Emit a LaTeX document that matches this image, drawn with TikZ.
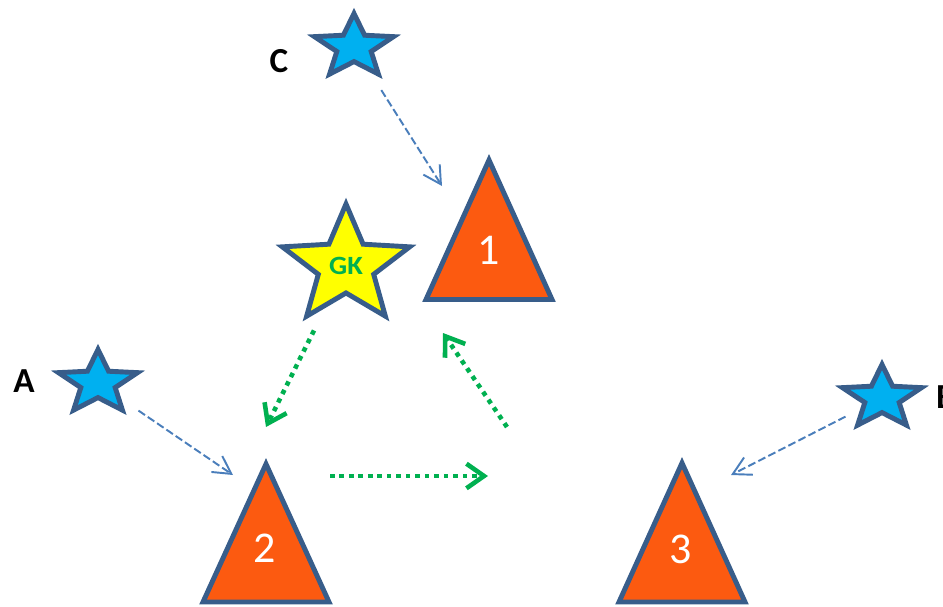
\documentclass[tikz,border=0pt]{standalone}
\usepackage{fontspec}
\setmainfont{Carlito}
\usetikzlibrary{arrows.meta,shapes.geometric}

\definecolor{starline}{RGB}{56,93,138}
\definecolor{starblue}{RGB}{0,176,240}
\definecolor{gkyellow}{RGB}{255,255,0}
\definecolor{triorange}{RGB}{252,90,16}
\definecolor{runblue}{RGB}{74,126,187}
\definecolor{passgreen}{RGB}{0,176,80}

\tikzset{
  player/.style={star, star points=5, star point ratio=2.3, draw=starline, line width=2.8pt, inner sep=0pt},
  cone/.style={draw=starline, fill=triorange, line width=2.8pt},
  conenum/.style={text=white, font=\fontsize{25}{30}\selectfont},
  tag/.style={font=\fontsize{20}{24}\selectfont\bfseries},
  run/.style={runblue, line width=1.1pt, dash pattern=on 4.5pt off 1.9pt, -{Straight Barb[length=10pt,width=11pt]}},
  pass/.style={passgreen, line width=2.6pt, dash pattern=on 2.6pt off 2.8pt, -{Straight Barb[length=10pt,width=14pt]}},
}

\begin{document}
\begin{tikzpicture}[x=0.02cm, y=-0.02cm]
    \useasboundingbox (0,0) rectangle (943,606);

    % Cones
    \draw[cone] (489,160) -- (552,299.5) -- (426,299.5) -- cycle;
    \draw[cone] (266,464) -- (329,602) -- (203,602) -- cycle;
    \draw[cone] (682,463) -- (745,602) -- (619,602) -- cycle;
    \node[conenum] (n1) at (489,250) {1};
    \node[conenum] (n2) at (265,548) {2};
    \node[conenum] (n3) at (681,549) {3};

    % Players
    \node[player, fill=starblue, minimum size=1.34cm, xscale=1.24] (sc) at (354,47) {};
    \node[player, fill=starblue, minimum size=1.34cm, xscale=1.24] (sa) at (98,383) {};
    \node[player, fill=starblue, minimum size=1.34cm, xscale=1.24] (sb) at (882,398) {};
    \node[player, fill=gkyellow, minimum size=2.48cm, xscale=1.08,
          text=passgreen, font=\fontsize{15}{18}\selectfont\bfseries] (gk) at (346,266) {GK};
    \node[tag] (lc) at (279,61) {C};
    \node[tag] (la) at (24,381) {A};
    \node[tag, anchor=west] (lb) at (930,397) {B};

    % Runs to the cones
    \coordinate (c-run) at (442,186);
    \coordinate (a-run) at (233,475);
    \coordinate (b-run) at (731,475);
    \draw[run, shorten <=1.02cm] (sc.center) -- (c-run);
    \draw[run, shorten <=0.98cm] (sa.center) -- (a-run);
    \draw[run, shorten <=0.82cm] (sb.center) -- (b-run);

    % Passes
    \coordinate (gk-to) at (266,427);
    \coordinate (p2-from) at (330,476);
    \coordinate (p2-to) at (488,476);
    \coordinate (p1-from) at (507,427);
    \coordinate (p1-to) at (443,333);
    \draw[pass, shorten <=1.44cm] (gk.center) -- (gk-to);
    \draw[pass] (p2-from) -- (p2-to);
    \draw[pass] (p1-from) -- (p1-to);
\end{tikzpicture}
\end{document}
